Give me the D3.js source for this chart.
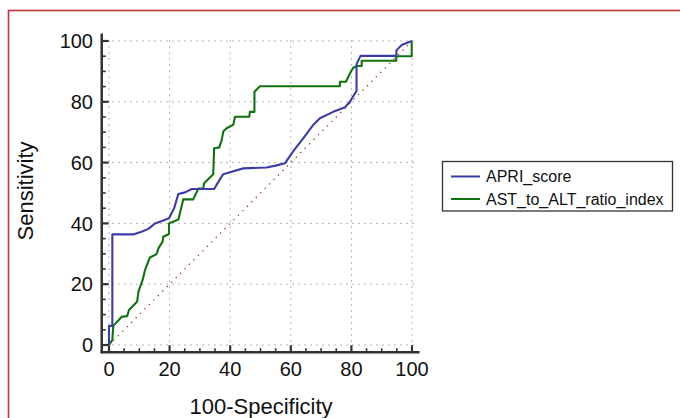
<!DOCTYPE html>
<html>
<head>
<meta charset="utf-8">
<script src="https://cdn.jsdelivr.net/npm/d3@7"></script>
<style>
  html, body { margin: 0; padding: 0; background: #fff; }
  svg { display: block; font-family: "Liberation Sans", Arial, sans-serif; }
</style>
</head>
<body>
<svg id="chart" width="680" height="418"></svg>
<script>
// ---- Data ----
const seriesNames = ["APRI_score", "AST_to_ALT_ratio_index"];
const seriesColors = ["#3c3ca6", "#0f730f"];

const apriX = [0, 0, 1.1, 1.1, 8.2, 10.5, 13, 15.2, 17.5, 19.8, 21.5, 22.9, 25.1, 27.3, 34.7, 36, 37.7, 39.9, 44.3, 52, 55, 58.1, 61, 64.1, 67.4, 69.6, 74, 77.9, 79.5, 81.2, 81.7, 81.7, 83, 94.8, 94.9, 96.6, 99.9];
const apriY = [0, 6.3, 6.3, 36.4, 36.4, 37.2, 38.2, 40, 40.8, 41.7, 45, 49.7, 50.2, 51.3, 51.3, 53.5, 56.2, 56.8, 58.1, 58.4, 59, 59.8, 64, 68, 72.4, 74.6, 76.7, 78.2, 80, 82.8, 83.5, 92.4, 95.1, 95.1, 97, 98.7, 100];

const astX = [0, 1.1, 1.4, 4.2, 6, 6.6, 9.3, 9.7, 11.1, 11.9, 13.5, 15.7, 16.3, 17.7, 17.9, 19.8, 19.8, 22.9, 24.5, 27.8, 29.5, 31.1, 31.4, 34.4, 34.7, 36.4, 37.2, 37.7, 38.8, 41, 41.6, 46.3, 46.5, 48, 48, 49.8, 76.2, 76.2, 78.2, 79.5, 80.6, 81.9, 83.4, 83.4, 94.8, 94.8, 99.9, 99.9];
const astY = [0, 1.6, 6.3, 9.3, 9.5, 11.5, 14.3, 17.5, 21.4, 24.7, 28.8, 29.9, 31.8, 34, 35.6, 36.5, 40, 41.3, 47.9, 47.9, 51.5, 51.5, 53.2, 56.2, 64.7, 65, 67.4, 70.2, 71.3, 72.4, 75.1, 75.1, 76.7, 76.7, 83.3, 85.1, 85.1, 86.6, 86.6, 89.3, 91.2, 91.8, 91.8, 93.5, 93.5, 95, 95, 100];

const majorTicks = [0, 20, 40, 60, 80, 100];
const minorTicks = d3.range(0, 101, 5).filter(v => v % 20 !== 0);
const xTitle = "100-Specificity";
const yTitle = "Sensitivity";

// ---- Layout ----
const svg = d3.select("#chart");
const x = d3.scaleLinear().domain([0, 100]).range([109, 412]);
const y = d3.scaleLinear().domain([0, 100]).range([345, 41]);
const axisLo = -2.4, axisHi = 102.5;

// outer red frame
svg.append("rect")
  .attr("x", 8.5).attr("y", 10.5).attr("width", 720).attr("height", 500)
  .attr("fill", "none").attr("stroke", "#c0343e").attr("stroke-width", 1.6);

// grid
const grid = svg.append("g").attr("stroke", "#b4b4b4").attr("stroke-width", 1)
  .attr("stroke-dasharray", "2,4").attr("fill", "none");
majorTicks.forEach(v => {
  grid.append("line").attr("x1", x(v)).attr("x2", x(v)).attr("y1", y(-1)).attr("y2", y(101.5));
  grid.append("line").attr("y1", y(v)).attr("y2", y(v)).attr("x1", x(-1)).attr("x2", x(101.5));
});

// diagonal reference line
svg.append("line")
  .attr("x1", x(0)).attr("y1", y(0)).attr("x2", x(100)).attr("y2", y(100))
  .attr("stroke", "#a8323c").attr("stroke-width", 1.3).attr("stroke-dasharray", "1.3,5");

// curves
const line = d3.line().x(d => x(d[0])).y(d => y(d[1]));
const series = [
  { name: seriesNames[1], color: seriesColors[1], pts: d3.zip(astX, astY) },
  { name: seriesNames[0], color: seriesColors[0], pts: d3.zip(apriX, apriY) }
];
series.forEach(s => {
  svg.append("path").datum(s.pts).attr("d", line)
    .attr("fill", "none").attr("stroke", s.color).attr("stroke-width", 2.1)
    .attr("stroke-linejoin", "round");
});

// axes
const axisColor = "#333";
const yAxisX = x(axisLo), xAxisY = y(axisLo);
svg.append("line").attr("x1", yAxisX).attr("x2", yAxisX).attr("y1", y(axisHi)).attr("y2", xAxisY + 1)
  .attr("stroke", axisColor).attr("stroke-width", 2.5);
svg.append("line").attr("x1", yAxisX - 1).attr("x2", x(axisHi)).attr("y1", xAxisY).attr("y2", xAxisY)
  .attr("stroke", axisColor).attr("stroke-width", 2.5);

const ticks = svg.append("g").attr("stroke", axisColor).attr("stroke-width", 1.6);
majorTicks.forEach(v => {
  ticks.append("line").attr("x1", yAxisX).attr("x2", yAxisX + 7).attr("y1", y(v)).attr("y2", y(v)).attr("stroke-width", 2.2);
  ticks.append("line").attr("y1", xAxisY).attr("y2", xAxisY - 7).attr("x1", x(v)).attr("x2", x(v)).attr("stroke-width", 2.2);
});
minorTicks.forEach(v => {
  ticks.append("line").attr("x1", yAxisX).attr("x2", yAxisX + 4).attr("y1", y(v)).attr("y2", y(v));
  ticks.append("line").attr("y1", xAxisY).attr("y2", xAxisY - 4).attr("x1", x(v)).attr("x2", x(v));
});

// tick labels
svg.append("g").selectAll("text").data(majorTicks).join("text")
  .attr("x", 93).attr("y", d => y(d)).attr("dy", "0.36em")
  .attr("text-anchor", "end").attr("font-size", 20).attr("fill", "#111")
  .text(d => d);
svg.append("g").selectAll("text").data(majorTicks).join("text")
  .attr("x", d => x(d)).attr("y", 376)
  .attr("text-anchor", "middle").attr("font-size", 20).attr("fill", "#111")
  .text(d => d);

// axis titles
svg.append("text").attr("x", 261).attr("y", 414).attr("text-anchor", "middle")
  .attr("font-size", 22).attr("fill", "#111").text(xTitle);
svg.append("text").attr("transform", "translate(33,191) rotate(-90)")
  .attr("text-anchor", "middle").attr("font-size", 22).attr("fill", "#111").text(yTitle);

// legend
const lg = svg.append("g");
lg.append("rect").attr("x", 442.5).attr("y", 161.5).attr("width", 230).attr("height", 49.5)
  .attr("fill", "#fff").attr("stroke", "#333").attr("stroke-width", 1.3);
[0, 1].forEach(i => {
  const yy = 176.5 + i * 22.5;
  lg.append("line").attr("x1", 451).attr("x2", 480).attr("y1", yy).attr("y2", yy)
    .attr("stroke", seriesColors[i]).attr("stroke-width", 2);
  lg.append("text").attr("x", 486).attr("y", yy + 5.5).attr("font-size", 16).attr("fill", "#111")
    .text(seriesNames[i]);
});
</script>
</body>
</html>
